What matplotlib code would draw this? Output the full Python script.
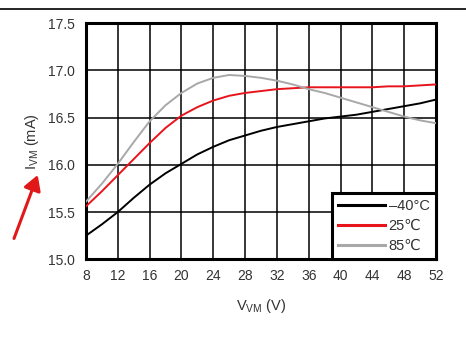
import matplotlib
matplotlib.use("Agg")
import matplotlib.pyplot as plt
from matplotlib.lines import Line2D
from matplotlib.patches import FancyArrowPatch

plt.rcParams['font.family'] = ['Liberation Sans', 'DejaVu Sans']
plt.rcParams['mathtext.fontset'] = 'custom'
plt.rcParams['mathtext.rm'] = 'Liberation Sans'
plt.rcParams['mathtext.it'] = 'Liberation Sans'
plt.rcParams['mathtext.bf'] = 'Liberation Sans'
plt.rcParams['mathtext.default'] = 'rm'

# Data
v_vm = [8, 10, 12, 14, 16, 18, 20, 22, 24, 26, 28, 30, 32, 34, 36, 38, 40, 42, 44, 46, 48, 50, 52]
i_m40 = [15.25, 15.37, 15.50, 15.65, 15.79, 15.91, 16.01, 16.11, 16.19, 16.26, 16.31, 16.36, 16.40,
         16.43, 16.46, 16.49, 16.51, 16.53, 16.56, 16.59, 16.62, 16.65, 16.69]
i_25 = [15.56, 15.72, 15.89, 16.06, 16.23, 16.39, 16.52, 16.61, 16.68, 16.73, 16.76, 16.78, 16.80,
        16.81, 16.82, 16.82, 16.82, 16.82, 16.82, 16.83, 16.83, 16.84, 16.85]
i_85 = [15.61, 15.80, 16.01, 16.24, 16.46, 16.63, 16.76, 16.86, 16.92, 16.95, 16.94, 16.92, 16.89,
        16.85, 16.80, 16.76, 16.71, 16.66, 16.61, 16.56, 16.51, 16.47, 16.44]
labels = ['\u201340°C', '25\u2103', '85\u2103']
colors = ['black', '#e8141c', '#a8a8a8']
x_ticks = list(range(8, 53, 4))
y_ticks = [15.0, 15.5, 16.0, 16.5, 17.0, 17.5]

fig = plt.figure(figsize=(4.66, 3.54), dpi=100)
ax = fig.add_axes([0.1845, 0.2675, 0.7511, 0.6675])

for y, c, lab in zip([i_m40, i_25, i_85], colors, labels):
    ax.plot(v_vm, y, color=c, lw=1.4, label=lab, zorder=3)

ax.set_xlim(8, 52)
ax.set_ylim(15.0, 17.5)
ax.set_xticks(x_ticks)
ax.set_yticks(y_ticks)
ax.set_yticklabels([f"{t:.1f}" for t in y_ticks])
ax.grid(True, color='black', lw=1.1, zorder=1)
ax.set_axisbelow(True)
ax.tick_params(length=0, labelsize=10, colors='#333333')
ax.tick_params(axis='x', pad=7)
ax.tick_params(axis='y', pad=8)
for s in ax.spines.values():
    s.set_linewidth(2.2)
    s.set_color('black')

ax.set_xlabel('$V_{VM}$ (V)', fontsize=10.5, color='#333333', labelpad=10)
ax.set_ylabel('$I_{VM}$ (mA)', fontsize=10.5, color='#333333', labelpad=5)

leg = ax.legend(loc='lower right', frameon=True, fancybox=False, fontsize=10.5,
                borderaxespad=0, handlelength=3.2, handletextpad=0.25,
                labelspacing=0.4, borderpad=0.45, framealpha=1)
leg.get_frame().set_edgecolor('black')
leg.get_frame().set_linewidth(2.2)
for h in leg.get_lines():
    h.set_linewidth(2.2)
for t in leg.get_texts():
    t.set_color('#333333')

# decorations
fig.add_artist(Line2D([0, 1], [0.974, 0.974], transform=fig.transFigure, color='black', lw=1.2))
fig.add_artist(FancyArrowPatch((0.028, 0.319), (0.083, 0.513), transform=fig.transFigure,
                               arrowstyle='-|>,head_length=6,head_width=3.5', color='#e01818',
                               lw=2.2, mutation_scale=1.5))

fig.savefig('out.png', dpi=100)
